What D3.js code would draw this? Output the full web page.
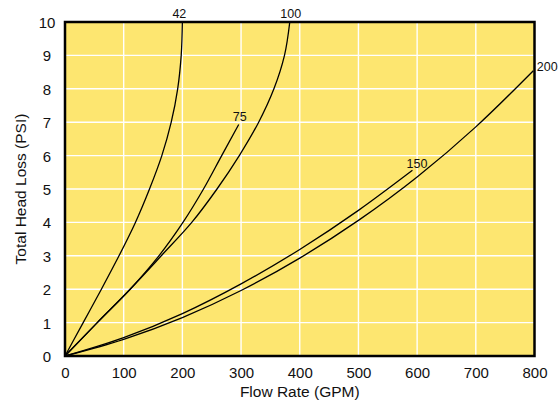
<!DOCTYPE html>
<html>
<head>
<meta charset="utf-8">
<script src="https://cdn.jsdelivr.net/npm/d3@7"></script>
<style>
  html, body { margin: 0; padding: 0; background: #fff; }
  svg { display: block; }
  text { font-family: "Liberation Sans", Arial, Helvetica, sans-serif; fill: #111; }
</style>
</head>
<body>
<svg id="chart" width="558" height="403"></svg>
<script>
// ---- data ----
const xTicks = [0, 100, 200, 300, 400, 500, 600, 700, 800];
const yTicks = [0, 1, 2, 3, 4, 5, 6, 7, 8, 9, 10];
const xTitle = "Flow Rate (GPM)";
const yTitle = "Total Head Loss (PSI)";

// each curve: flow (GPM) and head loss (PSI)
const flow42  = [0, 31, 62, 92, 120, 144, 165, 181, 192, 198, 200];
const psi42   = [0, 1, 2, 3, 4, 5, 6, 7, 8, 9, 10];
const flow75  = [0, 55, 111, 160, 201, 236, 267, 296];
const psi75   = [0, 1, 2, 3, 4, 5, 6, 6.93];
const flow100 = [0, 55, 111, 164, 216, 259, 297, 330, 356, 374, 383];
const psi100  = [0, 1, 2, 3, 4, 5, 6, 7, 8, 9, 10];
const flow150 = [0, 100, 200, 300, 400, 500, 592];
const psi150  = [0, 0.55, 1.27, 2.16, 3.19, 4.36, 5.56];
const flow200 = [0, 100, 200, 300, 400, 500, 600, 700, 798];
const psi200  = [0, 0.5, 1.15, 1.96, 2.93, 4.06, 5.36, 6.86, 8.54];
const curveNames = ["42", "75", "100", "150", "200"];

// ---- layout ----
const svg = d3.select("#chart");
const x = d3.scaleLinear().domain([0, 800]).range([65, 534.5]);
const y = d3.scaleLinear().domain([0, 10]).range([356, 22]);

const series = [
  { name: curveNames[0], flow: flow42,  psi: psi42,  curve: d3.curveMonotoneY, dx: -3,  dy: -4, anchor: "middle" },
  { name: curveNames[1], flow: flow75,  psi: psi75,  curve: d3.curveMonotoneY, dx: 1,   dy: -4, anchor: "middle" },
  { name: curveNames[2], flow: flow100, psi: psi100, curve: d3.curveMonotoneY, dx: 1,   dy: -4, anchor: "middle" },
  { name: curveNames[3], flow: flow150, psi: psi150, curve: d3.curveMonotoneX, dx: 4.5, dy: -2.5, anchor: "middle" },
  { name: curveNames[4], flow: flow200, psi: psi200, curve: d3.curveMonotoneX, dx: 3.5, dy: 0.5, anchor: "start" }
];

// plot background
svg.append("rect")
  .attr("x", x(0)).attr("y", y(10))
  .attr("width", x(800) - x(0)).attr("height", y(0) - y(10))
  .attr("fill", "#fde670");

// grid
const grid = svg.append("g").attr("stroke", "#fff").attr("stroke-width", 1.4);
grid.selectAll("line.v").data(xTicks.slice(1, -1)).join("line")
  .attr("x1", d => x(d)).attr("x2", d => x(d))
  .attr("y1", y(0)).attr("y2", y(10));
grid.selectAll("line.h").data(yTicks.slice(1, -1)).join("line")
  .attr("y1", d => y(d)).attr("y2", d => y(d))
  .attr("x1", x(0)).attr("x2", x(800));

// curves
svg.append("clipPath").attr("id", "plotclip").append("rect")
  .attr("x", x(0)).attr("y", y(10) - 1)
  .attr("width", x(800) - x(0)).attr("height", y(0) - y(10) + 1);

const curvesG = svg.append("g").attr("clip-path", "url(#plotclip)");
series.forEach(s => {
  const pts = s.flow.map((f, i) => [f, s.psi[i]]);
  const line = d3.line().x(d => x(d[0])).y(d => y(d[1])).curve(s.curve);
  curvesG.append("path")
    .attr("d", line(pts))
    .attr("fill", "none")
    .attr("stroke", "#000")
    .attr("stroke-width", 1.3);
});

// curve labels
series.forEach(s => {
  const n = s.flow.length - 1;
  svg.append("text")
    .attr("x", x(s.flow[n]) + s.dx)
    .attr("y", y(s.psi[n]) + s.dy)
    .attr("text-anchor", s.anchor)
    .attr("font-size", 12.5)
    .text(s.name);
});

// frame
svg.append("rect")
  .attr("x", x(0)).attr("y", y(10))
  .attr("width", x(800) - x(0)).attr("height", y(0) - y(10))
  .attr("fill", "none").attr("stroke", "#000").attr("stroke-width", 2.5);

// axes (labels only)
const xAxis = svg.append("g")
  .attr("transform", `translate(0,${y(0)})`)
  .call(d3.axisBottom(x).tickValues(xTicks).tickSize(0).tickPadding(0).tickFormat(d3.format("d")));
xAxis.select(".domain").remove();
xAxis.selectAll("text")
  .attr("y", 22).attr("dy", null)
  .attr("font-size", 15).attr("fill", "#111")
  .attr("font-family", "Liberation Sans, Arial, sans-serif");

const yAxis = svg.append("g")
  .attr("transform", `translate(${x(0)},0)`)
  .call(d3.axisLeft(y).tickValues(yTicks).tickSize(0).tickFormat(d3.format("d")));
yAxis.select(".domain").remove();
yAxis.selectAll("text")
  .attr("x", 47 - x(0)).attr("dy", "0.36em")
  .attr("text-anchor", "middle")
  .attr("font-size", 15).attr("fill", "#111")
  .attr("font-family", "Liberation Sans, Arial, sans-serif");

// axis titles
svg.append("text")
  .attr("x", (x(0) + x(800)) / 2).attr("y", 397)
  .attr("text-anchor", "middle").attr("font-size", 15.5)
  .text(xTitle);

svg.append("text")
  .attr("transform", `translate(25.5,${(y(0) + y(10)) / 2}) rotate(-90)`)
  .attr("text-anchor", "middle").attr("font-size", 15.5)
  .text(yTitle);
</script>
</body>
</html>
